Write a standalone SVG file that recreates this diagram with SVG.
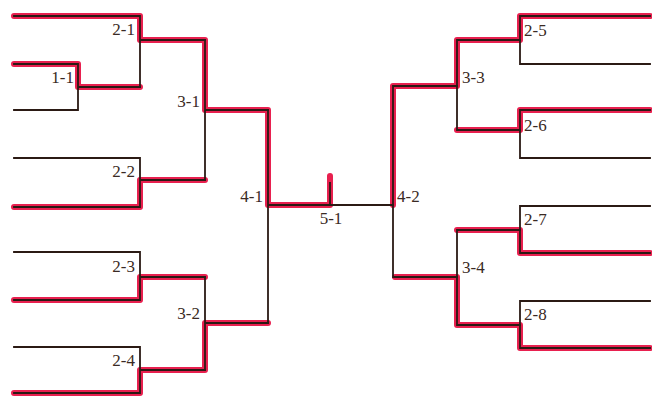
<svg xmlns="http://www.w3.org/2000/svg" width="652" height="404" viewBox="0 0 652 404">
<style>
.bg{fill:#ffffff}
.hl{fill:none;stroke:#e8204f;stroke-width:6;stroke-linecap:round;stroke-linejoin:round}
.ln{fill:none;stroke:#2b1a14;stroke-width:1.8;stroke-linecap:square}
.lb{font-size:17px;fill:#3a2a24}
.l{text-anchor:end}
.r{text-anchor:start}
</style>
<rect class="bg" x="0" y="0" width="652" height="404"/>
<g id="highlights">
<path class="hl" d="M14,16 H140 V40 H205 V110 H268 V205 H330 V176"/>
<path class="hl" d="M14,64 H78 V87 H140"/>
<path class="hl" d="M14,207 H140 V180 H205"/>
<path class="hl" d="M14,300 H140 V277 H205"/>
<path class="hl" d="M14,393 H140 V370 H205 V323 H268"/>
<path class="hl" d="M393,205 V86 H457 V40 H520 V16 H650"/>
<path class="hl" d="M650,110 H520 V130 H457"/>
<path class="hl" d="M650,253 H520 V230 H457"/>
<path class="hl" d="M395,277 H457 V325 H520 V348 H650"/>
</g>
<g id="connectors">
<path class="ln" d="M14,64 H78 V110 H14 M78,87 H140"/>
<path class="ln" d="M14,16 H140 V87 M140,40 H205"/>
<path class="ln" d="M14,158 H140 V207 H14 M140,180 H205"/>
<path class="ln" d="M205,40 V180 M205,110 H268"/>
<path class="ln" d="M14,252 H140 V300 H14 M140,277 H205"/>
<path class="ln" d="M14,347 H140 V393 H14 M140,370 H205"/>
<path class="ln" d="M205,277 V370 M205,323 H268"/>
<path class="ln" d="M268,110 V323 M268,205 H393"/>
<path class="ln" d="M330,205 V183"/>
<path class="ln" d="M393,86 V277 M393,86 H457 M393,277 H457"/>
<path class="ln" d="M457,40 V130 M457,40 H520 M457,130 H520"/>
<path class="ln" d="M650,16 H520 V64 H650"/>
<path class="ln" d="M650,110 H520 V158 H650"/>
<path class="ln" d="M457,230 V325 M457,230 H520 M457,325 H520"/>
<path class="ln" d="M650,206 H520 V253 H650"/>
<path class="ln" d="M650,301 H520 V348 H650"/>
</g>
<g font-family="'Liberation Serif', 'Times New Roman', 'DejaVu Serif', serif">
<g id="m1-1"><text class="lb l" x="74" y="83">1-1</text></g>
<g id="m2-1"><text class="lb l" x="135" y="35">2-1</text></g>
<g id="m2-2"><text class="lb l" x="135" y="177">2-2</text></g>
<g id="m2-3"><text class="lb l" x="135" y="272">2-3</text></g>
<g id="m2-4"><text class="lb l" x="135" y="366">2-4</text></g>
<g id="m3-1"><text class="lb l" x="200" y="107">3-1</text></g>
<g id="m3-2"><text class="lb l" x="200" y="319">3-2</text></g>
<g id="m4-1"><text class="lb l" x="263" y="202">4-1</text></g>
<g id="m5-1"><text class="lb" x="331" y="224" text-anchor="middle">5-1</text></g>
<g id="m4-2"><text class="lb r" x="397" y="202">4-2</text></g>
<g id="m3-3"><text class="lb r" x="462" y="83">3-3</text></g>
<g id="m3-4"><text class="lb r" x="462" y="273">3-4</text></g>
<g id="m2-5"><text class="lb r" x="524" y="36">2-5</text></g>
<g id="m2-6"><text class="lb r" x="524" y="131">2-6</text></g>
<g id="m2-7"><text class="lb r" x="524" y="225">2-7</text></g>
<g id="m2-8"><text class="lb r" x="524" y="320">2-8</text></g>
</g>
</svg>
